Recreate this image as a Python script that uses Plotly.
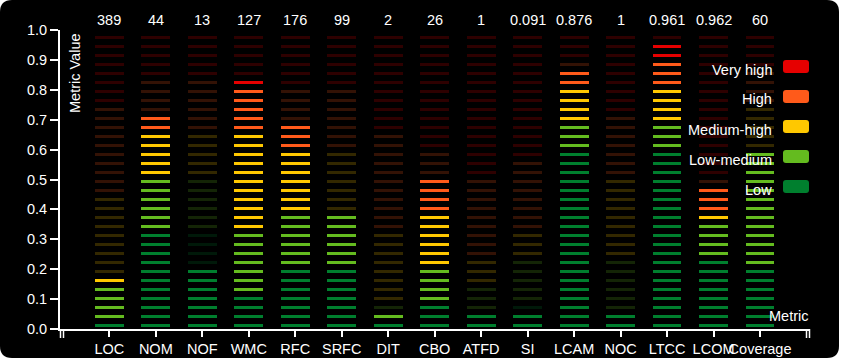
import plotly.graph_objects as go
import math

# ---------------- data ----------------
categories = ["LOC", "NOM", "NOF", "WMC", "RFC", "SRFC", "DIT", "CBO",
              "ATFD", "SI", "LCAM", "NOC", "LTCC", "LCOM", "Coverage"]
raw_values = ["389", "44", "13", "127", "176", "99", "2", "26",
              "1", "0.091", "0.876", "1", "0.961", "0.962", "60"]
metric_levels = [0.17, 0.71, 0.20, 0.83, 0.68, 0.38, 0.05, 0.50,
                 0.05, 0.05, 0.876, 0.05, 0.961, 0.47, 0.60]
# upper segment index (of 33) of the Low / Low-medium / Medium-high / High bands
band_low = [1, 11, 11, 4, 7, 7, 1, 3, 2, 3, 20, 2, 20, 8, 7]
band_lowmed = [5, 17, 17, 11, 13, 13, 3, 7, 5, 8, 23, 8, 23, 12, 20]
band_medhigh = [15, 22, 22, 22, 20, 20, 11, 13, 8, 11, 27, 17, 27, 13, 25]
band_high = [25, 28, 28, 27, 27, 27, 22, 20, 17, 19, 30, 24, 30, 17, 29]
level_names = ["Very high", "High", "Medium-high", "Low-medium", "Low"]
level_colors = ["#e60000", "#ff5a1a", "#ffc800", "#64bb1f", "#007f2e"]

N_SEG = 33
SEG_PITCH = 0.0301
SEG_OFFSET = 0.0124
SEG_THICK = 0.0105

# -------------- build segments --------------
groups = {}
for ci, cat in enumerate(categories):
    n_lit = math.ceil(metric_levels[ci] * N_SEG - 1e-9)
    for k in range(1, N_SEG + 1):
        if k <= band_low[ci]:
            lv = 4
        elif k <= band_lowmed[ci]:
            lv = 3
        elif k <= band_medhigh[ci]:
            lv = 2
        elif k <= band_high[ci]:
            lv = 1
        else:
            lv = 0
        lit = k <= n_lit
        g = groups.setdefault((lv, lit), {"x": [], "base": [], "y": []})
        center = SEG_OFFSET + (k - 1) * SEG_PITCH
        g["x"].append(cat)
        g["base"].append(center - SEG_THICK / 2)
        g["y"].append(SEG_THICK)

fig = go.Figure()
for (lv, lit), g in sorted(groups.items(), key=lambda t: (t[0][1], t[0][0])):
    fig.add_trace(go.Bar(
        x=g["x"], y=g["y"], base=g["base"], width=0.62,
        marker=dict(color=level_colors[lv], line=dict(width=0)),
        opacity=1.0 if lit else 0.2,
        showlegend=False, hoverinfo="skip",
    ))

# -------------- layout geometry --------------
W, H = 842, 361
L, R, T, B = 60, 32, 30, 32
PW, PH = W - L - R, H - T - B
FS = 14.5
font = dict(color="white", size=FS, family="Arial, Liberation Sans")


def px_x(p):
    return (p - L) / PW


def px_y(p):
    return (H - B - p) / PH


def rounded(x0, y0, x1, y1, r):
    X0, X1 = px_x(x0), px_x(x1)
    Y1, Y0 = px_y(y0), px_y(y1)
    rx, ry = r / PW, r / PH
    return (f"M {X0+rx},{Y1} L {X1-rx},{Y1} Q {X1},{Y1} {X1},{Y1-ry} "
            f"L {X1},{Y0+ry} Q {X1},{Y0} {X1-rx},{Y0} L {X0+rx},{Y0} "
            f"Q {X0},{Y0} {X0},{Y0+ry} L {X0},{Y1-ry} Q {X0},{Y1} {X0+rx},{Y1} Z")


shapes = [dict(type="path", xref="paper", yref="paper", layer="below",
               path=rounded(0, 0, 839, 358, 12),
               fillcolor="black", line=dict(width=0))]
# outer ticks at the ends of the category axis
for xp in (60.5, 63.5, 806.5, 809.5):
    shapes.append(dict(type="line", xref="paper", yref="paper", layer="above",
                       x0=px_x(xp), x1=px_x(xp), y0=px_y(329), y1=px_y(338),
                       line=dict(color="white", width=1.5)))

annotations = []
# raw values above each meter
for cat, rv in zip(categories, raw_values):
    annotations.append(dict(x=cat, y=px_y(20.5), xref="x", yref="paper",
                            text=rv, showarrow=False, xanchor="center",
                            yanchor="middle", font=font))

for j, (name, col) in enumerate(zip(level_names, level_colors)):
    top = 60 + 30 * j
    shapes.append(dict(type="path", xref="paper", yref="paper", layer="above",
                       path=rounded(783, top, 809, top + 13, 3),
                       fillcolor=col, line=dict(width=0)))
    annotations.append(dict(x=px_x(774), y=px_y(top + 9.5), xref="paper", yref="paper",
                            text=name, showarrow=False, xanchor="right", yanchor="middle",
                            font=font))

annotations.append(dict(x=px_x(75), y=px_y(31), xref="paper", yref="paper",
                        text="Metric Value", textangle=-90, showarrow=False,
                        xanchor="center", yanchor="top", font=font))
annotations.append(dict(x=px_x(810), y=px_y(316), xref="paper", yref="paper",
                        text="Metric", showarrow=False,
                        xanchor="right", yanchor="middle", font=font))

fig.update_layout(
    width=W, height=H,
    margin=dict(l=L, r=R, t=T, b=B, autoexpand=False),
    paper_bgcolor="white", plot_bgcolor="black",
    barmode="overlay", bargap=0,
    shapes=shapes, annotations=annotations,
    font=font,
    xaxis=dict(type="category", categoryorder="array", categoryarray=categories,
               range=[-1.061, 15.075], showgrid=False, zeroline=False,
               showline=True, linecolor="white", linewidth=2,
               ticks="outside", ticklen=6, tickwidth=2, tickcolor="white",
               tickangle=0, automargin=False,
               tickfont=font, fixedrange=True),
    yaxis=dict(range=[0, 1], tickvals=[i / 10 for i in range(11)], tickformat=".1f",
               showgrid=False, zeroline=False,
               showline=True, linecolor="white", linewidth=2,
               ticks="outside", ticklen=8, tickwidth=2, tickcolor="white",
               automargin=False,
               tickfont=font, fixedrange=True),
)

fig.write_html("out.html")
